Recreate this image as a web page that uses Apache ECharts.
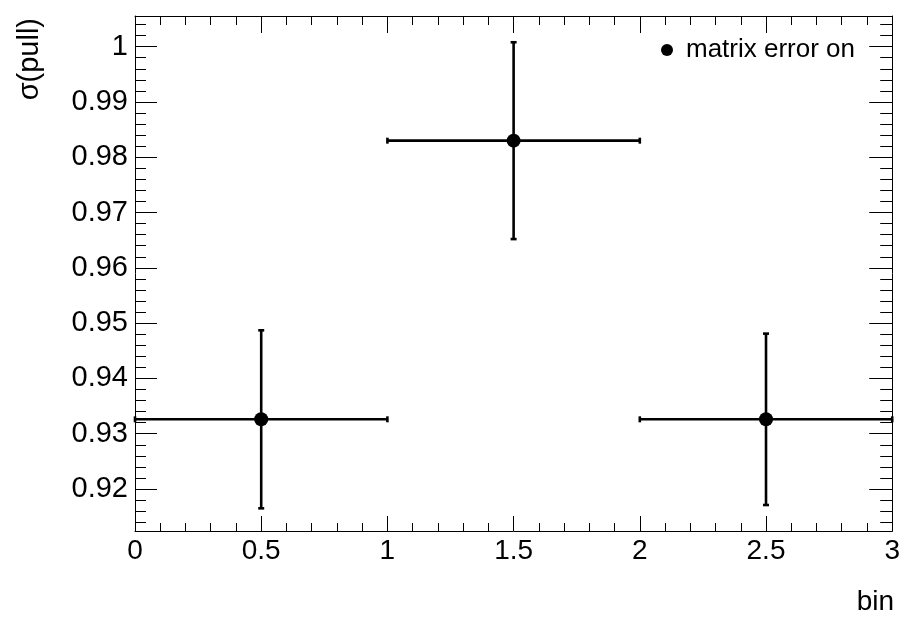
<!DOCTYPE html>
<html>
<head>
<meta charset="utf-8">
<script src="https://cdn.jsdelivr.net/npm/echarts@6/dist/echarts.min.js"></script>
<style>
html,body{margin:0;padding:0;background:#fff;}
#chart{width:903px;height:617px;}
</style>
</head>
<body>
<div id="chart"></div>
<script>
// ---- data ----
var binCenters = [0.5, 1.5, 2.5];
var binHalfWidths = [0.5, 0.5, 0.5];
var sigmaPull = [0.9326, 0.9830, 0.9326];
var sigmaPullErr = [0.0161, 0.0178, 0.0155];
var seriesName = 'matrix error on';
var xTitle = 'bin';
var yTitle = 'σ(pull)';
var xRange = [0, 3];
var yRange = [0.9124, 1.00555];

var FONT = 'Liberation Sans, Arial, Helvetica, sans-serif';

var errData = binCenters.map(function (x, i) {
  return [x, sigmaPull[i], binHalfWidths[i], sigmaPullErr[i]];
});
var pointData = binCenters.map(function (x, i) { return [x, sigmaPull[i]]; });

function fmtY(v) {
  var r = Math.round(v * 100) / 100;
  if (Math.abs(r - v) > 1e-6) return '';
  return String(+r.toFixed(2));
}
function fmtX(v) {
  var r = Math.round(v * 2) / 2;
  if (Math.abs(r - v) > 1e-6) return '';
  return String(r);
}

var chart = echarts.init(document.getElementById('chart'), null, {renderer: 'canvas'});
var lineStyle = {color: '#000', width: 1};

var option = {
  animation: false,
  backgroundColor: '#fff',
  grid: {left: 135, top: 16, right: 8, bottom: 86, containLabel: false},
  legend: {
    data: [{name: seriesName, icon: 'circle', itemStyle: {color: '#000', opacity: 1}}],
    left: 656, top: 32,
    itemWidth: 12, itemHeight: 12,
    textStyle: {fontFamily: FONT, fontSize: 26, color: '#000', padding: [0, 0, 0, 8]},
    selectedMode: false
  },
  xAxis: [
    {
      type: 'value', min: xRange[0], max: xRange[1], interval: 0.5, position: 'bottom',
      axisLine: {show: true, onZero: false, lineStyle: lineStyle},
      axisTick: {show: true, inside: true, length: 15, lineStyle: lineStyle},
      minorTick: {show: true, splitNumber: 5, length: 8, lineStyle: lineStyle},
      splitLine: {show: false},
      axisLabel: {show: true, fontFamily: FONT, fontSize: 28, color: '#000', margin: 6, formatter: fmtX, showMinLabel: true, showMaxLabel: true}
    },
    {
      type: 'value', min: xRange[0], max: xRange[1], interval: 0.5, position: 'top',
      axisLine: {show: true, onZero: false, lineStyle: lineStyle},
      axisTick: {show: true, inside: true, length: 17, lineStyle: lineStyle},
      minorTick: {show: true, splitNumber: 5, length: 9, lineStyle: lineStyle},
      splitLine: {show: false},
      axisLabel: {show: false}
    }
  ],
  yAxis: [
    {
      type: 'value', min: yRange[0], max: yRange[1], splitNumber: 9, position: 'left',
      axisLine: {show: true, onZero: false, lineStyle: lineStyle},
      axisTick: {show: true, inside: true, length: 22, lineStyle: lineStyle},
      minorTick: {show: true, splitNumber: 5, length: 11, lineStyle: lineStyle},
      splitLine: {show: false},
      axisLabel: {show: true, fontFamily: FONT, fontSize: 29, color: '#000', margin: 7, formatter: fmtY, showMinLabel: false, showMaxLabel: false}
    },
    {
      type: 'value', min: yRange[0], max: yRange[1], splitNumber: 9, position: 'right',
      axisLine: {show: true, onZero: false, lineStyle: lineStyle},
      axisTick: {show: true, inside: true, length: 23, lineStyle: lineStyle},
      minorTick: {show: true, splitNumber: 5, length: 12, lineStyle: lineStyle},
      splitLine: {show: false},
      axisLabel: {show: false}
    }
  ],
  graphic: [
    {type: 'text', x: 30, y: 18, rotation: Math.PI / 2,
     style: {text: yTitle, fontFamily: FONT, fontSize: 29, fill: '#000', align: 'right', verticalAlign: 'middle'}},
    {type: 'text', x: 894, y: 602,
     style: {text: xTitle, fontFamily: FONT, fontSize: 28, fill: '#000', align: 'right', verticalAlign: 'middle'}}
  ],
  series: [
    {
      type: 'custom',
      xAxisIndex: 0, yAxisIndex: 0,
      data: errData,
      silent: true,
      z: 2,
      renderItem: function (params, api) {
        var x = api.value(0), y = api.value(1), dx = api.value(2), dy = api.value(3);
        var l = api.coord([x - dx, y]);
        var r = api.coord([x + dx, y]);
        var t = api.coord([x, y + dy]);
        var b = api.coord([x, y - dy]);
        var st = {stroke: '#000', lineWidth: 2.6};
        var cap = 3;
        return {
          type: 'group',
          children: [
            {type: 'line', shape: {x1: l[0], y1: l[1], x2: r[0], y2: r[1]}, style: st},
            {type: 'line', shape: {x1: t[0], y1: t[1], x2: b[0], y2: b[1]}, style: st},
            {type: 'line', shape: {x1: l[0], y1: l[1] - cap, x2: l[0], y2: l[1] + cap}, style: st},
            {type: 'line', shape: {x1: r[0], y1: r[1] - cap, x2: r[0], y2: r[1] + cap}, style: st},
            {type: 'line', shape: {x1: t[0] - cap, y1: t[1], x2: t[0] + cap, y2: t[1]}, style: st},
            {type: 'line', shape: {x1: b[0] - cap, y1: b[1], x2: b[0] + cap, y2: b[1]}, style: st}
          ]
        };
      }
    },
    {
      name: seriesName,
      type: 'scatter',
      xAxisIndex: 0, yAxisIndex: 0,
      data: pointData,
      symbol: 'circle',
      symbolSize: 14,
      itemStyle: {color: '#000', opacity: 1},
      z: 3
    }
  ]
};
chart.setOption(option);
</script>
</body>
</html>
